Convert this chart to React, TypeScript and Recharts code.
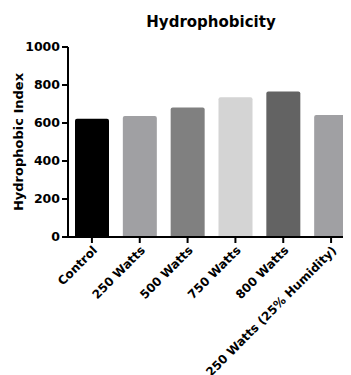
import { Bar, BarChart, Cell, XAxis, YAxis } from 'recharts';

const categories = ['Control', '250 Watts', '500 Watts', '750 Watts', '800 Watts', '250 Watts (25% Humidity)'];
const values = [623, 637, 682, 735, 766, 642];
const colors = ['#000000', '#a0a0a3', '#808080', '#d4d4d4', '#636363', '#a0a0a3'];
const yTicks = [0, 200, 400, 600, 800, 1000];

const data = categories.map((name, i) => ({ name, value: values[i] }));

const font = 'DejaVu Sans, sans-serif';

export default function App() {
    return (
        <div style={{ position: 'relative', width: 343, height: 367, overflow: 'hidden' }}>
            <div
                style={{
                    position: 'absolute',
                    left: 0,
                    top: 7,
                    width: 406,
                    textAlign: 'center',
                    fontFamily: font,
                    fontWeight: 'bold',
                    fontSize: 15,
                    lineHeight: '15px',
                }}
            >
                Hydrophobicity
            </div>
            <BarChart width={360} height={367} data={data} margin={{ top: 39, right: 13, bottom: 0, left: 0 }}>
                <XAxis
                    dataKey="name"
                    interval={0}
                    height={138}
                    angle={-45}
                    textAnchor="end"
                    stroke="#000"
                    strokeWidth={2}
                    tick={{ fill: '#000', fontFamily: font, fontWeight: 'bold', fontSize: 12 }}
                />
                <YAxis
                    width={60}
                    domain={[0, 1000]}
                    ticks={yTicks}
                    stroke="#000"
                    strokeWidth={2}
                    tick={{ fill: '#000', fontFamily: font, fontWeight: 'bold', fontSize: 12.5 }}
                    label={{
                        value: 'Hydrophobic Index',
                        angle: -90,
                        position: 'center',
                        dx: -20,
                        fill: '#000',
                        fontFamily: font,
                        fontWeight: 'bold',
                        fontSize: 13,
                    }}
                />
                <Bar dataKey="value" barSize={34} radius={[2, 2, 0, 0]} isAnimationActive={false}>
                    {data.map((d, i) => (
                        <Cell key={d.name} fill={colors[i]} />
                    ))}
                </Bar>
            </BarChart>
        </div>
    );
}
